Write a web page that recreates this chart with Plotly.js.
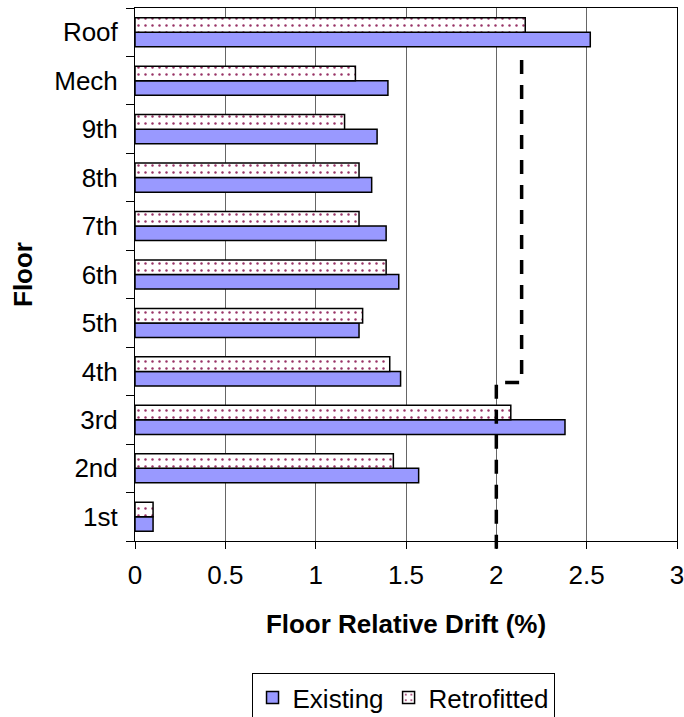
<!DOCTYPE html>
<html>
<head>
<meta charset="utf-8">
<script src="https://cdn.plot.ly/plotly-3.0.1.min.js"></script>
<style>html,body{margin:0;padding:0;background:#fff;}#chart{width:684px;height:717px;}</style>
</head>
<body>
<div id="chart"></div>
<script>
// Floors, bottom to top
const floors = ['1st','2nd','3rd','4th','5th','6th','7th','8th','9th','Mech','Roof'];
// Floor relative drift (%)
const existing    = [0.10, 1.57, 2.38, 1.47, 1.24, 1.46, 1.39, 1.31, 1.34, 1.40, 2.52];
const retrofitted = [0.10, 1.43, 2.08, 1.41, 1.26, 1.39, 1.24, 1.24, 1.16, 1.22, 2.16];
// Drift limit (dashed line): x = drift %, y = floor position in category units
const limitDrift = [2.00, 2.00, 2.14, 2.14];
const limitFloorPos = [-0.66, 2.77, 2.77, 9.63];
const xTicks = [0, 0.5, 1, 1.5, 2, 2.5, 3];
const xTickText = ['0','0.5','1','1.5','2','2.5','3'];

const FONT = 'Liberation Sans, Arial, sans-serif';
const FS = 26;

const traces = [
  {
    type: 'bar', orientation: 'h', name: 'Existing',
    y: floors, x: existing,
    marker: {color: '#9999FF', line: {color: '#000', width: 1.5}}
  },
  {
    type: 'bar', orientation: 'h', name: 'Retrofitted',
    y: floors, x: retrofitted,
    marker: {
      color: '#FFFFFF',
      line: {color: '#000', width: 1.5},
      pattern: {shape: '.', fgcolor: '#993366', bgcolor: '#FFFFFF', size: 7, solidity: 0.1}
    }
  }
];

const n = floors.length;
let path = '';
limitDrift.forEach((x, i) => {
  const py = (limitFloorPos[i] + 0.5) / n;
  path += (i === 0 ? 'M' : 'L') + x + ',' + py;
});

const layout = {
  width: 684, height: 717,
  margin: {l: 135, r: 7, t: 8, b: 176, autoexpand: false},
  paper_bgcolor: '#fff', plot_bgcolor: '#fff',
  font: {family: FONT, size: FS, color: '#000'},
  barmode: 'group', bargap: 0.4, bargroupgap: 0,
  showlegend: true,
  legend: {
    orientation: 'h', x: 0.215, xanchor: 'left', y: -0.2477, yanchor: 'top',
    bordercolor: '#000', borderwidth: 1, font: {size: FS, family: FONT},
    traceorder: 'normal'
  },
  xaxis: {
    range: [0, 3], tickvals: xTicks, ticktext: xTickText,
    showgrid: true, gridcolor: '#666', gridwidth: 1,
    zeroline: false, showline: true, linecolor: '#000', linewidth: 1, mirror: true,
    ticks: 'outside', ticklen: 7, tickcolor: '#000', ticklabelstandoff: 4,
    ticklabeloverflow: 'allow',
    tickfont: {size: FS, family: FONT},
    title: {text: '<b>Floor Relative Drift (%)</b>', font: {size: FS, family: FONT}, standoff: 25}
  },
  yaxis: {
    type: 'category', categoryorder: 'array', categoryarray: floors,
    showgrid: false, zeroline: false, showline: true, linecolor: '#000', linewidth: 1, mirror: true,
    ticks: 'outside', ticklen: 8, tickcolor: '#000', tickson: 'boundaries', ticklabelstandoff: 11,
    tickfont: {size: FS, family: FONT},
    title: {text: '<b>Floor</b>', font: {size: FS, family: FONT}, standoff: 14}
  },
  shapes: [{
    type: 'path', xref: 'x', yref: 'paper', path: path,
    line: {color: '#000', width: 3.5, dash: '14px,11px'}, layer: 'above'
  }]
};

Plotly.newPlot('chart', traces, layout, {displayModeBar: false, staticPlot: true});
</script>
</body>
</html>
